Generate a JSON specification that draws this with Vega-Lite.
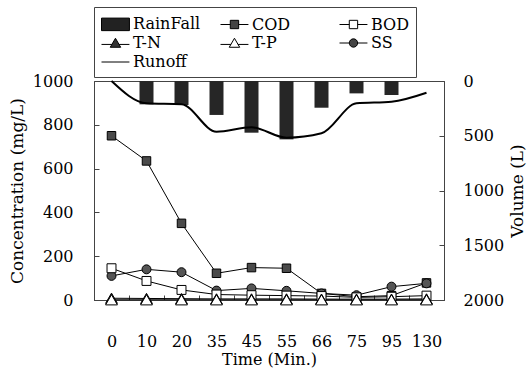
{
  "$schema": "https://vega.github.io/schema/vega-lite/v6.json",
  "width": 350,
  "height": 219,
  "autosize": {"type": "none"},
  "padding": {"left": 94, "top": 81, "right": 84, "bottom": 69},
  "background": "white",
  "config": {
    "font": "DejaVu Serif",
    "view": {"stroke": "#444", "strokeWidth": 1},
    "axis": {
      "labelFont": "DejaVu Serif",
      "titleFont": "DejaVu Serif",
      "labelFontSize": 16,
      "titleFontSize": 17,
      "labelColor": "black",
      "titleColor": "black",
      "titleFontWeight": "normal",
      "grid": false,
      "domainColor": "#444",
      "tickColor": "#444",
      "format": "d"
    },
    "legend": {"labelFont": "DejaVu Serif", "titleFont": "DejaVu Serif"}
  },
  "datasets": {
    "vol": [
      {"t": 0, "rain": 0, "runoff": 0},
      {"t": 10, "rain": 213, "runoff": 204},
      {"t": 20, "rain": 219, "runoff": 213},
      {"t": 35, "rain": 310, "runoff": 463},
      {"t": 45, "rain": 472, "runoff": 423},
      {"t": 55, "rain": 533, "runoff": 518},
      {"t": 66, "rain": 244, "runoff": 478},
      {"t": 75, "rain": 113, "runoff": 204},
      {"t": 95, "rain": 128, "runoff": 189},
      {"t": 130, "rain": 0, "runoff": 107}
    ],
    "conc": [
      {"t": 0, "series": "COD", "value": 750},
      {"t": 10, "series": "COD", "value": 635},
      {"t": 20, "series": "COD", "value": 350},
      {"t": 35, "series": "COD", "value": 122},
      {"t": 45, "series": "COD", "value": 148},
      {"t": 55, "series": "COD", "value": 145},
      {"t": 66, "series": "COD", "value": 30},
      {"t": 75, "series": "COD", "value": 15},
      {"t": 95, "series": "COD", "value": 20},
      {"t": 130, "series": "COD", "value": 78},
      {"t": 0, "series": "BOD", "value": 145},
      {"t": 10, "series": "BOD", "value": 87},
      {"t": 20, "series": "BOD", "value": 46},
      {"t": 35, "series": "BOD", "value": 25},
      {"t": 45, "series": "BOD", "value": 22},
      {"t": 55, "series": "BOD", "value": 20},
      {"t": 66, "series": "BOD", "value": 18},
      {"t": 75, "series": "BOD", "value": 12},
      {"t": 95, "series": "BOD", "value": 15},
      {"t": 130, "series": "BOD", "value": 20},
      {"t": 0, "series": "SS", "value": 110},
      {"t": 10, "series": "SS", "value": 140},
      {"t": 20, "series": "SS", "value": 127},
      {"t": 35, "series": "SS", "value": 43},
      {"t": 45, "series": "SS", "value": 53},
      {"t": 55, "series": "SS", "value": 42},
      {"t": 66, "series": "SS", "value": 30},
      {"t": 75, "series": "SS", "value": 22},
      {"t": 95, "series": "SS", "value": 61},
      {"t": 130, "series": "SS", "value": 76},
      {"t": 0, "series": "T-N", "value": 8},
      {"t": 10, "series": "T-N", "value": 7},
      {"t": 20, "series": "T-N", "value": 6},
      {"t": 35, "series": "T-N", "value": 5},
      {"t": 45, "series": "T-N", "value": 5},
      {"t": 55, "series": "T-N", "value": 5},
      {"t": 66, "series": "T-N", "value": 4},
      {"t": 75, "series": "T-N", "value": 4},
      {"t": 95, "series": "T-N", "value": 4},
      {"t": 130, "series": "T-N", "value": 5},
      {"t": 0, "series": "T-P", "value": 1},
      {"t": 10, "series": "T-P", "value": 1},
      {"t": 20, "series": "T-P", "value": 1},
      {"t": 35, "series": "T-P", "value": 1},
      {"t": 45, "series": "T-P", "value": 1},
      {"t": 55, "series": "T-P", "value": 1},
      {"t": 66, "series": "T-P", "value": 1},
      {"t": 75, "series": "T-P", "value": 1},
      {"t": 95, "series": "T-P", "value": 1},
      {"t": 130, "series": "T-P", "value": 1}
    ],
    "leg": [
      {"series": "RainFall"}, {"series": "COD"}, {"series": "BOD"},
      {"series": "T-N"}, {"series": "T-P"}, {"series": "SS"}, {"series": "Runoff"}
    ]
  },
  "layer": [
    {
      "data": {"name": "vol"},
      "layer": [
        {
          "mark": {"type": "bar", "fill": "#262626", "width": {"band": 0.4}},
          "encoding": {
            "x": {
              "field": "t", "type": "ordinal",
              "scale": {"type": "band", "domain": [0, 10, 20, 35, 45, 55, 66, 75, 95, 130], "paddingInner": 0, "paddingOuter": 0},
              "axis": {"title": "Time (Min.)", "labelAngle": 0, "tickBand": "extent", "tickSize": -5, "labelPadding": 38, "titlePadding": 2, "titleFontSize": 16, "titleFontWeight": "normal"}
            },
            "y": {
              "field": "rain", "type": "quantitative",
              "scale": {"domain": [0, 2000], "reverse": true, "nice": false},
              "axis": {"orient": "right", "title": "Volume (L)", "values": [0, 500, 1000, 1500, 2000], "tickSize": -5, "labelPadding": 24, "titleAngle": -90, "titleBaseline": "top", "titlePadding": 6, "titleFontWeight": "normal"}
            }
          }
        },
        {
          "mark": {"type": "line", "stroke": "black", "strokeWidth": 2, "interpolate": "monotone"},
          "encoding": {
            "x": {"field": "t", "type": "ordinal", "scale": {"type": "band", "domain": [0, 10, 20, 35, 45, 55, 66, 75, 95, 130], "paddingInner": 0, "paddingOuter": 0}},
            "y": {"field": "runoff", "type": "quantitative"},
            "order": {"field": "t", "type": "quantitative"}
          }
        }
      ]
    },
    {
      "data": {"name": "conc"},
      "encoding": {
        "x": {"field": "t", "type": "ordinal", "scale": {"type": "band", "domain": [0, 10, 20, 35, 45, 55, 66, 75, 95, 130], "paddingInner": 0, "paddingOuter": 0}},
        "y": {
          "field": "value", "type": "quantitative",
          "scale": {"domain": [0, 1000], "nice": false},
          "axis": {"orient": "left", "title": "Concentration (mg/L)", "values": [0, 200, 400, 600, 800, 1000], "tickSize": -5, "labelPadding": 26, "titlePadding": 6, "titleFontWeight": "normal"}
        }
      },
      "layer": [
        {
          "mark": {"type": "line", "stroke": "black", "strokeWidth": 1},
          "encoding": {"detail": {"field": "series"}, "order": {"field": "t", "type": "quantitative"}}
        },
        {
          "transform": [{"filter": "datum.series === 'COD'"}],
          "mark": {"type": "point", "shape": "square", "size": 72, "filled": true, "fill": "#4a4a4a", "stroke": "black", "strokeWidth": 1, "opacity": 1}
        },
        {
          "transform": [{"filter": "datum.series === 'SS'"}],
          "mark": {"type": "point", "shape": "circle", "size": 80, "filled": true, "fill": "#555555", "stroke": "black", "strokeWidth": 1, "opacity": 1}
        },
        {
          "transform": [{"filter": "datum.series === 'BOD'"}],
          "mark": {"type": "point", "shape": "square", "size": 80, "filled": true, "fill": "white", "stroke": "black", "strokeWidth": 1, "opacity": 1}
        },
        {
          "transform": [{"filter": "datum.series === 'T-N'"}],
          "mark": {"type": "point", "shape": "triangle-up", "size": 140, "filled": true, "fill": "#333333", "stroke": "black", "strokeWidth": 1, "opacity": 1}
        },
        {
          "transform": [{"filter": "datum.series === 'T-P'"}],
          "mark": {"type": "point", "shape": "triangle-up", "size": 140, "filled": true, "fill": "white", "stroke": "black", "strokeWidth": 1, "opacity": 1}
        }
      ]
    },
    {
      "data": {"name": "leg"},
      "transform": [{"filter": "false"}],
      "mark": {"type": "point", "color": "black"},
      "encoding": {
        "shape": {
          "field": "series", "type": "nominal",
          "scale": {
            "domain": ["RainFall", "COD", "BOD", "T-N", "T-P", "SS", "Runoff"],
            "range": [
              "M-1,-0.66H1.94V0.66H-1Z",
              "M-1,0H0.03M0.91,0H1.94M0.03,-0.44H0.91V0.44H0.03Z",
              "M-1,0H0.03M0.91,0H1.94M0.03,-0.44H0.91V0.44H0.03Z",
              "M-1,0.15H0.1M0.84,0.15H1.94M0.47,-0.5L1.02,0.45H-0.08Z",
              "M-1,0.15H0.1M0.84,0.15H1.94M0.47,-0.5L1.02,0.45H-0.08Z",
              "M-1,0H0.03M0.91,0H1.94M0.03,0A0.44,0.44,0,1,0,0.91,0A0.44,0.44,0,1,0,0.03,0Z",
              "M-1,0H1.94"
            ]
          },
          "legend": {"title": null, "orient": "top", "direction": "horizontal", "columns": 3, "gridAlign": "all", "columnPadding": 17, "rowPadding": 0, "padding": 7, "offset": 4, "strokeColor": "#444", "symbolSize": 361, "symbolStrokeWidth": 1, "symbolStrokeColor": "black", "symbolOpacity": 1, "labelFontSize": 16, "labelFont": "DejaVu Serif", "labelColor": "black", "labelOffset": 12}
        },
        "fill": {
          "field": "series", "type": "nominal",
          "scale": {
            "domain": ["RainFall", "COD", "BOD", "T-N", "T-P", "SS", "Runoff"],
            "range": ["#222222", "#444444", "white", "#333333", "white", "#444444", "transparent"]
          }
        },
        "stroke": {
          "field": "series", "type": "nominal",
          "scale": {
            "domain": ["RainFall", "COD", "BOD", "T-N", "T-P", "SS", "Runoff"],
            "range": ["black", "black", "black", "black", "black", "black", "black"]
          }
        },
        "strokeWidth": {
          "field": "series", "type": "nominal",
          "scale": {
            "domain": ["RainFall", "COD", "BOD", "T-N", "T-P", "SS", "Runoff"],
            "range": [1, 1, 1, 1, 1, 1, 2]
          }
        }
      }
    }
  ],
  "resolve": {"scale": {"y": "independent"}}
}
